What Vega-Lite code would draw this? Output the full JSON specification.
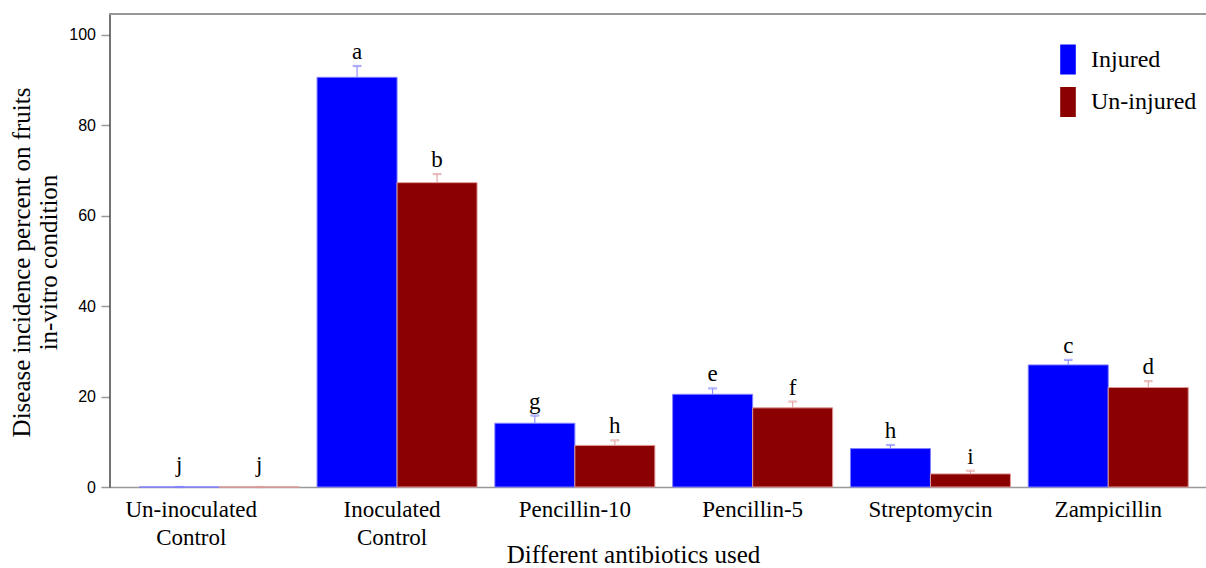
{
  "$schema": "https://vega.github.io/schema/vega-lite/v6.json",
  "autosize": {"type": "none"},
  "width": 1097,
  "height": 473,
  "padding": {"left": 109.5, "top": 14, "right": 0, "bottom": 81},
  "background": "white",
  "config": {
    "view": {"stroke": null},
    "font": "Liberation Serif"
  },
  "data": {
    "values": [
      {"treatment": "Un-inoculated Control", "condition": "Injured", "value": 0, "upper": 0, "letter": "j"},
      {"treatment": "Un-inoculated Control", "condition": "Un-injured", "value": 0, "upper": 0, "letter": "j"},
      {"treatment": "Inoculated Control", "condition": "Injured", "value": 90.6, "upper": 93.1, "letter": "a"},
      {"treatment": "Inoculated Control", "condition": "Un-injured", "value": 67.3, "upper": 69.2, "letter": "b"},
      {"treatment": "Pencillin-10", "condition": "Injured", "value": 14.1, "upper": 15.8, "letter": "g"},
      {"treatment": "Pencillin-10", "condition": "Un-injured", "value": 9.2, "upper": 10.3, "letter": "h"},
      {"treatment": "Pencillin-5", "condition": "Injured", "value": 20.5, "upper": 21.8, "letter": "e"},
      {"treatment": "Pencillin-5", "condition": "Un-injured", "value": 17.5, "upper": 18.9, "letter": "f"},
      {"treatment": "Streptomycin", "condition": "Injured", "value": 8.5, "upper": 9.3, "letter": "h"},
      {"treatment": "Streptomycin", "condition": "Un-injured", "value": 2.9, "upper": 3.6, "letter": "i"},
      {"treatment": "Zampicillin", "condition": "Injured", "value": 27.0, "upper": 28.1, "letter": "c"},
      {"treatment": "Zampicillin", "condition": "Un-injured", "value": 22.0, "upper": 23.4, "letter": "d"}
    ]
  },
  "layer": [
    {
      "mark": {"type": "rule", "color": "#999999", "strokeWidth": 1.5},
      "encoding": {"y": {"datum": 104.6, "type": "quantitative"}}
    },
    {
      "mark": {"type": "bar", "strokeWidth": 1},
      "encoding": {
        "x": {
          "field": "treatment", "type": "nominal",
          "sort": ["Un-inoculated Control", "Inoculated Control", "Pencillin-10", "Pencillin-5", "Streptomycin", "Zampicillin"],
          "scale": {"paddingInner": 0.1, "paddingOuter": 0.135, "align": 0.62},
          "axis": {
            "title": "Different antibiotics used",
            "titleFont": "Liberation Serif", "titleFontSize": 25, "titleFontWeight": "normal", "titleColor": "#000000",
            "titleX": 523.5, "titleY": 75, "titleBaseline": "alphabetic",
            "labelFont": "Liberation Serif", "labelFontSize": 23, "labelColor": "#000000",
            "labelAngle": 0, "labelLineHeight": 28, "labelPadding": 11.5, "labelBaseline": "top",
            "labelExpr": "datum.value == 'Un-inoculated Control' ? ['Un-inoculated','Control'] : datum.value == 'Inoculated Control' ? ['Inoculated','Control'] : datum.value",
            "labelOffset": {"condition": [{"test": "datum.value == 'Un-inoculated Control'", "value": -28}, {"test": "datum.value == 'Inoculated Control'", "value": -5}], "value": 0},
            "ticks": false, "domainColor": "#999999", "domainWidth": 1.5
          }
        },
        "xOffset": {"field": "condition", "type": "nominal", "scale": {"paddingInner": 0, "paddingOuter": 0}},
        "y": {
          "field": "value", "type": "quantitative",
          "scale": {"domain": [0, 104.6], "nice": false},
          "axis": {
            "values": [0, 20, 40, 60, 80, 100],
            "grid": false,
            "title": ["Disease incidence percent on fruits", "in-vitro condition"],
            "titleFont": "Liberation Serif", "titleFontSize": 25, "titleFontWeight": "normal", "titleColor": "#000000",
            "titleLineHeight": 27, "titleX": -80.5, "titleY": 248, "titleAngle": -90, "titleBaseline": "alphabetic", "titleAlign": "center",
            "labelFont": "Liberation Sans", "labelFontSize": 16, "labelColor": "#000000", "labelPadding": 5.5,
            "tickSize": 8.5, "tickColor": "#999999", "tickWidth": 1.5,
            "domainColor": "#444444", "domainWidth": 1.5
          }
        },
        "color": {
          "field": "condition", "type": "nominal",
          "scale": {"domain": ["Injured", "Un-injured"], "range": ["#0000FF", "#8B0000"]},
          "legend": {
            "title": null, "orient": "none", "legendX": 943.5, "legendY": 30.5,
            "symbolType": "M-0.52,-1H0.52V1H-0.52Z", "symbolSize": 900, "symbolStrokeWidth": 0,
            "labelFont": "Liberation Serif", "labelFontSize": 24, "labelColor": "#000000",
            "labelOffset": 8, "rowPadding": 12.5, "padding": 0
          }
        },
        "stroke": {
          "field": "condition", "type": "nominal",
          "scale": {"domain": ["Injured", "Un-injured"], "range": ["#8080ff", "#e09a9a"]},
          "legend": null
        }
      }
    },
    {
      "mark": {"type": "rule", "strokeWidth": 1},
      "encoding": {
        "x": {"field": "treatment", "type": "nominal", "sort": ["Un-inoculated Control", "Inoculated Control", "Pencillin-10", "Pencillin-5", "Streptomycin", "Zampicillin"]},
        "xOffset": {"field": "condition", "type": "nominal"},
        "y": {"field": "value", "type": "quantitative"},
        "y2": {"field": "upper"},
        "stroke": {"field": "condition", "type": "nominal", "scale": {"domain": ["Injured", "Un-injured"], "range": ["#5a5aff", "#c86464"]}, "legend": null}
      }
    },
    {
      "mark": {"type": "tick", "thickness": 1.2, "size": 8, "orient": "horizontal"},
      "encoding": {
        "x": {"field": "treatment", "type": "nominal", "sort": ["Un-inoculated Control", "Inoculated Control", "Pencillin-10", "Pencillin-5", "Streptomycin", "Zampicillin"]},
        "xOffset": {"field": "condition", "type": "nominal"},
        "y": {"field": "upper", "type": "quantitative"},
        "color": {"field": "condition", "type": "nominal", "scale": {"domain": ["Injured", "Un-injured"], "range": ["#0000FF", "#8B0000"]}, "legend": null},
        "stroke": {"field": "condition", "type": "nominal", "scale": {"domain": ["Injured", "Un-injured"], "range": ["#5a5aff", "#c86464"]}, "legend": null},
        "fill": {"value": null}
      }
    },
    {
      "transform": [{"filter": "datum.upper > 0"}],
      "mark": {"type": "text", "font": "Liberation Serif", "fontSize": 23, "baseline": "alphabetic", "dy": -7, "color": "#000000"},
      "encoding": {
        "x": {"field": "treatment", "type": "nominal", "sort": ["Un-inoculated Control", "Inoculated Control", "Pencillin-10", "Pencillin-5", "Streptomycin", "Zampicillin"]},
        "xOffset": {"field": "condition", "type": "nominal"},
        "y": {"field": "upper", "type": "quantitative"},
        "text": {"field": "letter"}
      }
    },
    {
      "transform": [{"filter": "datum.upper == 0"}],
      "mark": {"type": "text", "font": "Liberation Serif", "fontSize": 23, "baseline": "alphabetic", "dy": -15, "color": "#000000"},
      "encoding": {
        "x": {"field": "treatment", "type": "nominal", "sort": ["Un-inoculated Control", "Inoculated Control", "Pencillin-10", "Pencillin-5", "Streptomycin", "Zampicillin"]},
        "xOffset": {"field": "condition", "type": "nominal"},
        "y": {"field": "upper", "type": "quantitative"},
        "text": {"field": "letter"}
      }
    }
  ]
}
